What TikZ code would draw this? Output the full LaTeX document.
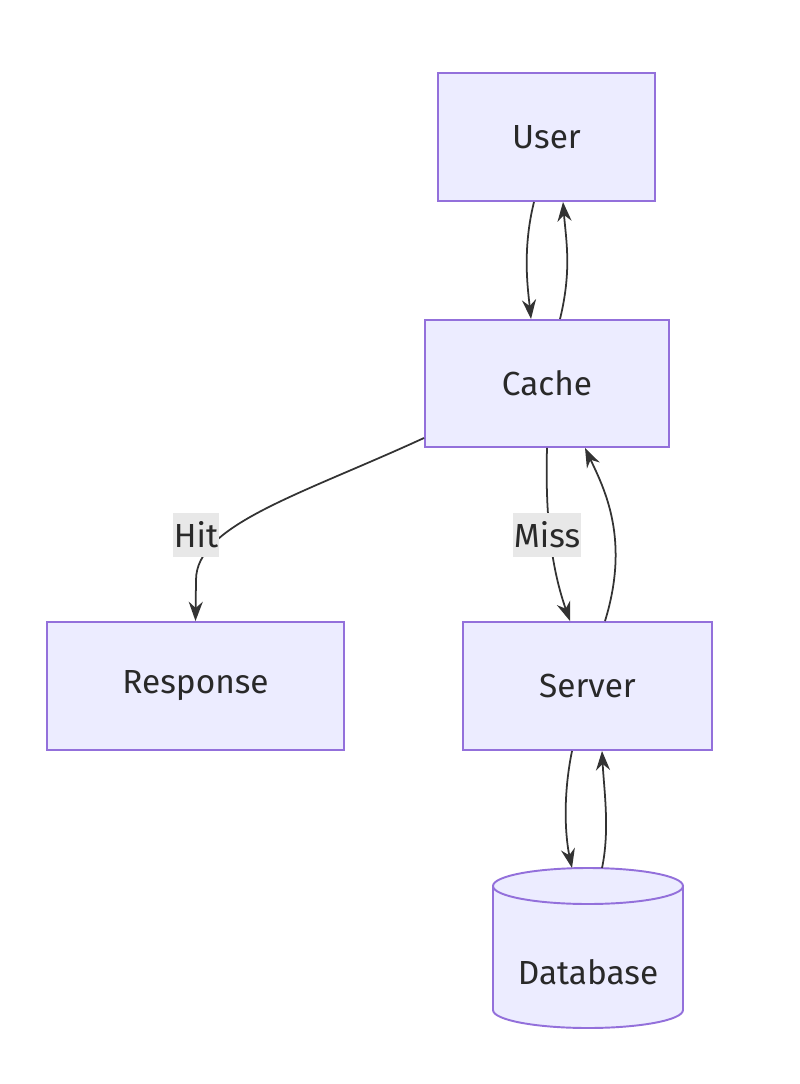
\documentclass[tikz,border=0pt]{standalone}
\usepackage{fontspec}
\setmainfont{Fira Sans}
\usetikzlibrary{arrows.meta}
\definecolor{nfill}{HTML}{ECECFF}
\definecolor{nborder}{HTML}{9370DB}
\definecolor{edge}{HTML}{333333}
\definecolor{lbl}{HTML}{E8E8E8}
\begin{document}
\begin{tikzpicture}[x=0.02cm,y=-0.02cm,
  box/.style={draw=nborder,fill=nfill,line width=1.1pt,inner sep=0pt,font=\fontsize{19}{22}\selectfont,text=edge!80!black},
  con/.style={draw=edge,line width=1pt,-{Stealth[length=11pt,width=8pt]}},
  lab/.style={fill=lbl,inner xsep=0.5pt,inner ysep=5pt,font=\fontsize{19}{22}\selectfont,text=edge!80!black}]
\useasboundingbox (0,0) rectangle (800,1084);
\node[box,minimum width=217*0.02cm,minimum height=128*0.02cm] (user) at (546.5,137) {User};
\node[box,minimum width=244*0.02cm,minimum height=127*0.02cm] (cache) at (547,383.5) {Cache};
\node[box,minimum width=297*0.02cm,minimum height=128*0.02cm] (resp) at (195.5,686) {Response};
\node[box,minimum width=249*0.02cm,minimum height=128*0.02cm] (server) at (587.5,686) {Server};
% database cylinder
\fill[nfill] (493,886) -- (493,1010) arc[start angle=180,end angle=360,x radius=95,y radius=-18] -- (683,886) -- cycle;
\fill[nfill] (588,886) ellipse[x radius=95,y radius=18];
\draw[nborder,line width=1.1pt] (493,886) -- (493,1010) arc[start angle=180,end angle=360,x radius=95,y radius=-18] -- (683,886);
\draw[nborder,line width=1.1pt] (588,886) ellipse[x radius=95,y radius=18];
\node[font=\fontsize{19}{22}\selectfont,text=edge!80!black] (db) at (588,972) {Database};
\coordinate (dbtop) at (588,868);
% edges
\draw[con] (user.south -| 534,0) .. controls (522,250) and (528,290) .. (cache.north -| 531,0);
\draw[con] (cache.north -| 560,0) .. controls (572,270) and (566,240) .. (user.south -| 563,0);
\draw[con] (cache.south west) ++(0,-10) .. controls (300,495) and (196,525) .. (196,580) -- (resp.north);
\node[lab] (hit) at (196,535) {Hit};
\draw[con] (cache.south -| 547,0) .. controls (545,520) and (552,570) .. (server.north -| 570,0);
\node[lab] (miss) at (547,535) {Miss};
\draw[con] (server.north -| 605,0) .. controls (630,540) and (605,490) .. (cache.south -| 585,0);
\draw[con] (server.south -| 572,0) .. controls (562,800) and (566,840) .. (dbtop -| 572,0);
\draw[con] (dbtop -| 602,0) .. controls (610,830) and (604,790) .. (server.south -| 602,0);
\end{tikzpicture}
\end{document}
